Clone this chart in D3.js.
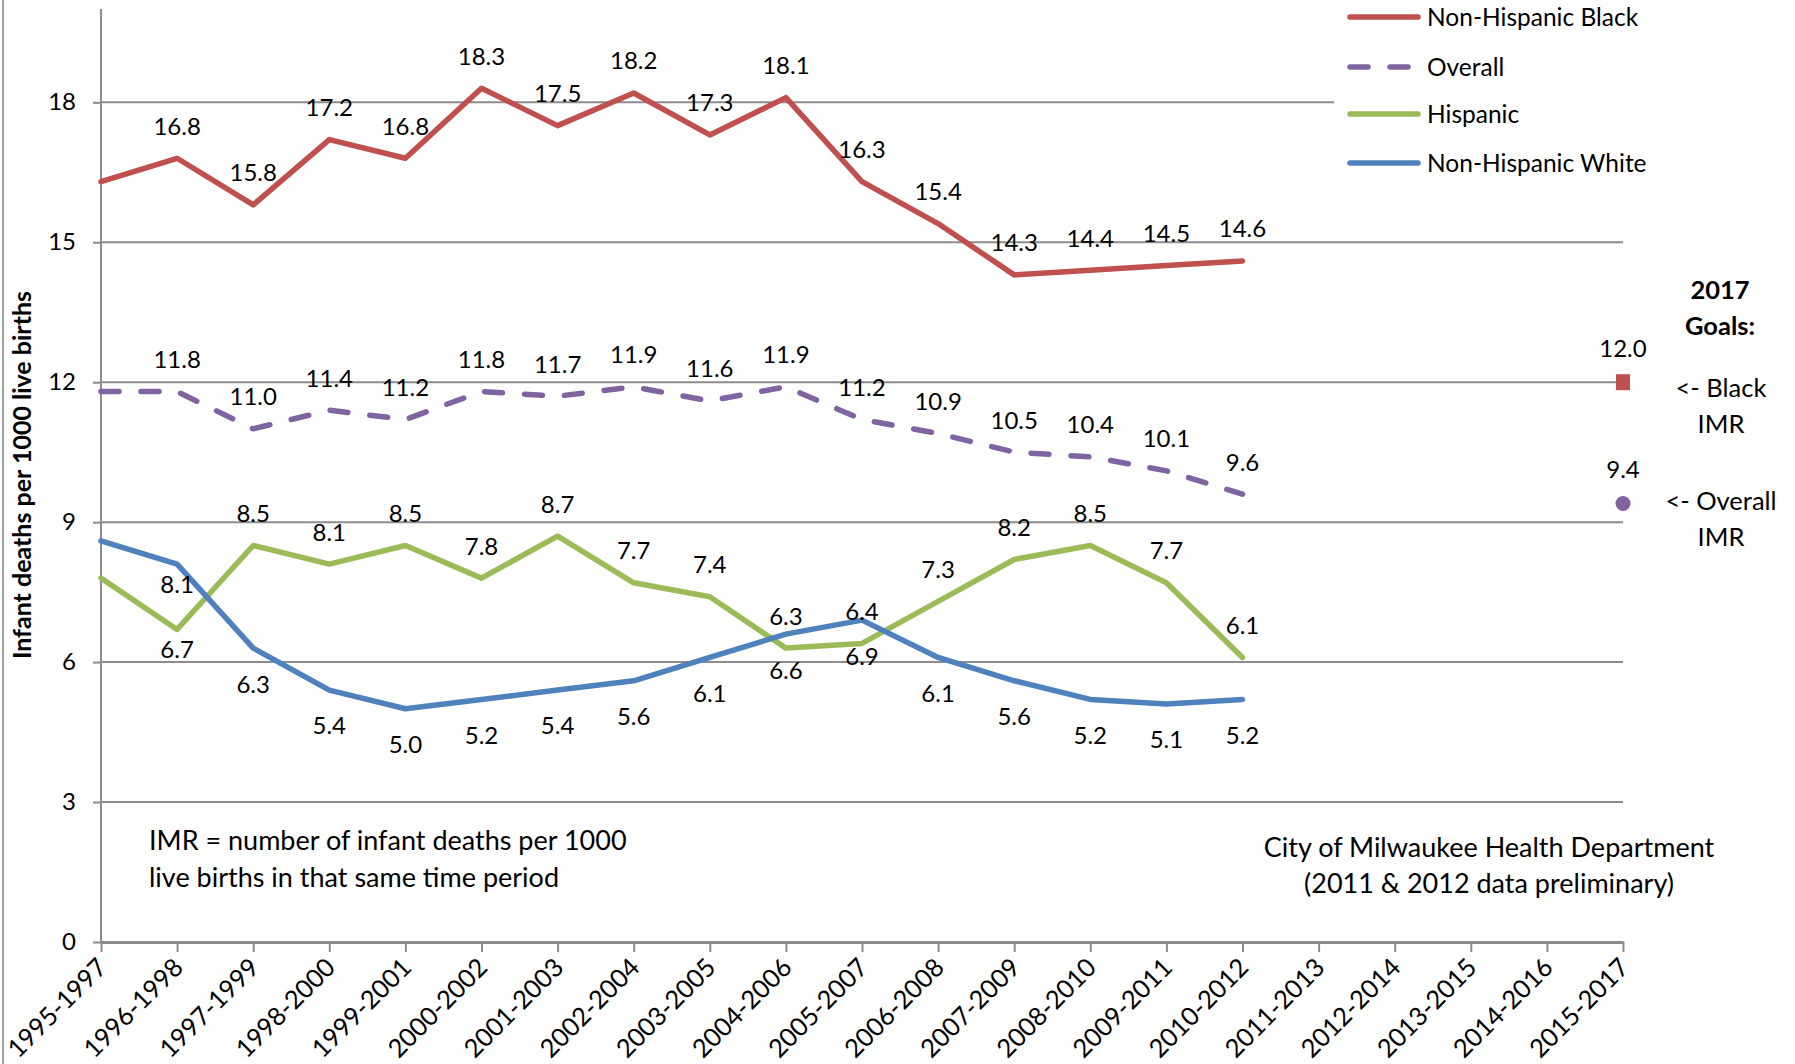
<!doctype html>
<html lang="en">
<head>
  <meta charset="utf-8">
  <script src="https://d3js.org/d3.v7.min.js"></script>
  <style>
    body { margin: 0; background: #fff; }
    text { font-family: Lato, "Open Sans", sans-serif; fill: #000; }
  </style>
</head>
<body>
  <div id="chart"></div>
  <script>
  // categories (3-year periods)
  var periods = ["1995-1997", "1996-1998", "1997-1999", "1998-2000", "1999-2001", "2000-2002",
    "2001-2003", "2002-2004", "2003-2005", "2004-2006", "2005-2007", "2006-2008", "2007-2009",
    "2008-2010", "2009-2011", "2010-2012", "2011-2013", "2012-2014", "2013-2015", "2014-2016", "2015-2017"];

  // IMR series (first 16 periods)
  var black    = [16.3, 16.8, 15.8, 17.2, 16.8, 18.3, 17.5, 18.2, 17.3, 18.1, 16.3, 15.4, 14.3, 14.4, 14.5, 14.6];
  var overall  = [11.8, 11.8, 11.0, 11.4, 11.2, 11.8, 11.7, 11.9, 11.6, 11.9, 11.2, 10.9, 10.5, 10.4, 10.1, 9.6];
  var hispanic = [7.8, 6.7, 8.5, 8.1, 8.5, 7.8, 8.7, 7.7, 7.4, 6.3, 6.4, 7.3, 8.2, 8.5, 7.7, 6.1];
  var white    = [8.6, 8.1, 6.3, 5.4, 5.0, 5.2, 5.4, 5.6, 6.1, 6.6, 6.9, 6.1, 5.6, 5.2, 5.1, 5.2];

  // 2017 goals
  var goalPeriod = "2015-2017";
  var goalBlack = 12.0;
  var goalOverall = 9.4;

  var yTicks = [0, 3, 6, 9, 12, 15, 18];

  var width = 1795, height = 1064;
  var svg = d3.select("#chart").append("svg")
      .attr("width", width)
      .attr("height", height);

  var x = d3.scalePoint()
      .domain(periods)
      .range([101, 1623]);

  var y = d3.scaleLinear()
      .domain([0, 20])
      .range([942, 9]);

  // outer border on the left
  svg.append("line")
      .attr("x1", 3).attr("x2", 3)
      .attr("y1", 0).attr("y2", height)
      .attr("stroke", "#a0a0a0")
      .attr("stroke-width", 2);

  // gridlines
  svg.append("g")
      .selectAll("line")
      .data(yTicks.filter(function (d) { return d > 0; }))
      .enter()
      .append("line")
      .attr("x1", x.range()[0])
      .attr("x2", x.range()[1])
      .attr("y1", function (d) { return y(d); })
      .attr("y2", function (d) { return y(d); })
      .attr("stroke", "#8c8c8c")
      .attr("stroke-width", 2);

  // y axis
  var yAxis = svg.append("g")
      .attr("transform", "translate(" + x.range()[0] + ",0)")
      .call(d3.axisLeft(y).tickValues(yTicks).tickSize(8).tickPadding(17).tickSizeOuter(0));
  yAxis.select(".domain").attr("stroke", "#8c8c8c").attr("stroke-width", 2)
      .attr("d", "M0," + y(20) + "V" + y(0));
  yAxis.selectAll(".tick line").attr("stroke", "#8c8c8c").attr("stroke-width", 2);
  yAxis.selectAll(".tick text").style("font-size", "24px").style("font-family", "Lato");

  // x axis
  var xAxis = svg.append("g")
      .attr("transform", "translate(0," + y(0) + ")")
      .call(d3.axisBottom(x).tickSize(10).tickSizeOuter(0));
  xAxis.select(".domain").attr("stroke", "#8c8c8c").attr("stroke-width", 3);
  xAxis.selectAll(".tick line").attr("stroke", "#8c8c8c").attr("stroke-width", 2);
  xAxis.selectAll(".tick text")
      .style("font-size", "25.5px")
      .style("font-family", "Lato")
      .attr("text-anchor", "end")
      .attr("dy", null)
      .attr("y", 0)
      .attr("transform", "translate(7,27) rotate(-45)");

  // y axis title
  svg.append("text")
      .attr("transform", "translate(31,475) rotate(-90)")
      .attr("text-anchor", "middle")
      .style("font-size", "25px")
      .style("font-weight", "bold")
      .text("Infant deaths per 1000 live births");

  var series = [
    { name: "Non-Hispanic Black", values: black, color: "#C0504D", dash: null, labelDy: -32 },
    { name: "Overall", values: overall, color: "#8064A2", dash: "18,22", labelDy: -32 },
    { name: "Hispanic", values: hispanic, color: "#9BBB59", dash: null, labelDy: -32 },
    { name: "Non-Hispanic White", values: white, color: "#4F81BD", dash: null, labelDy: 36 }
  ];

  var line = d3.line()
      .x(function (d, i) { return x(periods[i]); })
      .y(function (d) { return y(d); });

  series.forEach(function (s) {
    svg.append("path")
        .datum(s.values)
        .attr("d", line)
        .attr("fill", "none")
        .attr("stroke", s.color)
        .attr("stroke-width", 5.5)
        .attr("stroke-linejoin", "round")
        .attr("stroke-linecap", "round")
        .attr("stroke-dasharray", s.dash);
  });

  // data labels (first period has none)
  series.forEach(function (s) {
    svg.append("g")
        .selectAll("text")
        .data(s.values.slice(1))
        .enter()
        .append("text")
        .attr("x", function (d, i) { return x(periods[i + 1]); })
        .attr("y", function (d, i) {
          var dy = s.labelDy;
          if (i === 0 && s.name !== "Overall" && s.name !== "Non-Hispanic Black") dy = 20;
          return y(d) + dy;
        })
        .attr("dy", "0.35em")
        .attr("text-anchor", "middle")
        .style("font-size", "24px")
        .text(function (d) { return d.toFixed(1); });
  });

  // legend
  var legend = svg.append("g").attr("transform", "translate(1348,17)");
  legend.append("rect")
      .attr("x", -14).attr("y", -17)
      .attr("width", 440).attr("height", 170)
      .attr("fill", "#fff");
  series.forEach(function (s, i) {
    var gy = [0, 50, 97, 146][i];
    legend.append("line")
        .attr("x1", 2).attr("x2", 70)
        .attr("y1", gy).attr("y2", gy)
        .attr("stroke", s.color)
        .attr("stroke-width", 5.5)
        .attr("stroke-linecap", "round")
        .attr("stroke-dasharray", s.dash);
    legend.append("text")
        .attr("x", 79).attr("y", gy)
        .attr("dy", "0.35em")
        .style("font-size", "24.5px")
        .text(s.name);
  });

  // 2017 goals
  var gx = x(goalPeriod);
  svg.append("rect")
      .attr("x", gx - 7).attr("y", y(goalBlack) - 8)
      .attr("width", 14).attr("height", 16)
      .attr("fill", "#C0504D");
  svg.append("circle")
      .attr("cx", gx).attr("cy", y(goalOverall))
      .attr("r", 7.5)
      .attr("fill", "#8064A2");
  svg.append("text")
      .attr("x", gx).attr("y", y(goalBlack) - 34).attr("dy", "0.35em")
      .attr("text-anchor", "middle").style("font-size", "24px")
      .text(goalBlack.toFixed(1));
  svg.append("text")
      .attr("x", gx).attr("y", y(goalOverall) - 34).attr("dy", "0.35em")
      .attr("text-anchor", "middle").style("font-size", "24px")
      .text(goalOverall.toFixed(1));

  var notes = [
    { x: 1720, y: 290, t: "2017", bold: true },
    { x: 1720, y: 326, t: "Goals:", bold: true },
    { x: 1721, y: 388, t: "<- Black" },
    { x: 1721, y: 424, t: "IMR" },
    { x: 1721, y: 501, t: "<- Overall" },
    { x: 1721, y: 537, t: "IMR" }
  ];
  svg.append("g").selectAll("text")
      .data(notes)
      .enter()
      .append("text")
      .attr("x", function (d) { return d.x; })
      .attr("y", function (d) { return d.y; })
      .attr("dy", "0.35em")
      .attr("text-anchor", "middle")
      .style("font-size", "25.5px")
      .style("font-weight", function (d) { return d.bold ? "bold" : "normal"; })
      .text(function (d) { return d.t; });

  // footnotes
  svg.append("text")
      .attr("x", 149).attr("y", 841).attr("dy", "0.35em")
      .style("font-size", "27px")
      .text("IMR = number of infant deaths per 1000");
  svg.append("text")
      .attr("x", 149).attr("y", 878).attr("dy", "0.35em")
      .style("font-size", "27px")
      .text("live births in that same time period");
  svg.append("text")
      .attr("x", 1489).attr("y", 848).attr("dy", "0.35em")
      .attr("text-anchor", "middle")
      .style("font-size", "27px")
      .text("City of Milwaukee Health Department");
  svg.append("text")
      .attr("x", 1489).attr("y", 884).attr("dy", "0.35em")
      .attr("text-anchor", "middle")
      .style("font-size", "27px")
      .text("(2011 & 2012 data preliminary)");
  </script>
</body>
</html>
